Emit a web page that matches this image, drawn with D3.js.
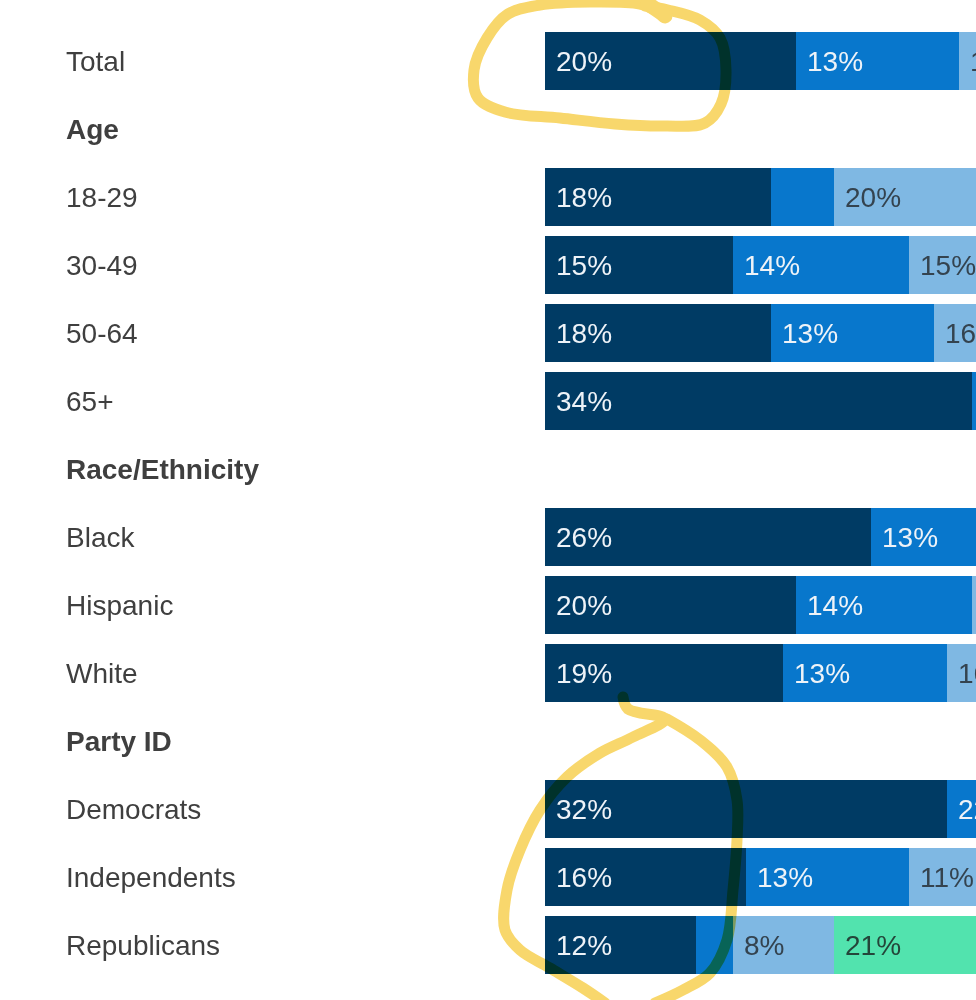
<!DOCTYPE html>
<html>
<head>
<meta charset="utf-8">
<script src="https://cdn.jsdelivr.net/npm/d3@7"></script>
<style>
  html, body { margin: 0; padding: 0; background: #ffffff; }
  svg { display: block; }
</style>
</head>
<body>
<svg id="chart" width="976" height="1000"></svg>
<script>
// ---- data ----
const rowLabels = ["Total", "Age", "18-29", "30-49", "50-64", "65+", "Race/Ethnicity",
                   "Black", "Hispanic", "White", "Party ID", "Democrats", "Independents", "Republicans"];
const isHeader  = [false, true, false, false, false, false, true, false, false, false, true, false, false, false];
// stacked segments (percent), left to right; header rows have no bar
const seg1 = [20, null, 18, 15, 18, 34, null, 26, 20, 19, null, 32, 16, 12];
const seg2 = [13, null,  5, 14, 13, 10, null, 13, 14, 13, null, 22, 13,  3];
const seg3 = [15, null, 20, 15, 16, 14, null, 14, 12, 16, null, 14, 11,  8];
const seg4 = [18, null, 20, 19, 18, 16, null, 17, 19, 18, null, 12, 20, 21];
const segColors = ["#003b64", "#0877cc", "#7fb8e3", "#52e3ae"];
const segText   = ["#eef3f8", "#eef3f8", "#34434f", "#24463a"];

const W = 976;
const svg = d3.select("#chart");

const y = d3.scaleBand().domain(d3.range(rowLabels.length))
  .range([27, 27 + 68 * rowLabels.length]).paddingInner(10 / 68).paddingOuter(5 / 68);
const x = d3.scaleLinear().domain([0, 100]).range([545, 545 + 1255]);

const series = [seg1, seg2, seg3, seg4];

// bars
const rows = svg.append("g");
rowLabels.forEach((lab, i) => {
  if (isHeader[i]) return;
  let acc = 0;
  series.forEach((s, k) => {
    const v = s[i];
    const x0 = Math.round(x(acc)), x1 = Math.round(x(acc + v));
    rows.append("rect")
      .attr("x", x0).attr("y", Math.round(y(i)))
      .attr("width", x1 - x0).attr("height", Math.round(y.bandwidth()))
      .attr("fill", segColors[k])
      .attr("shape-rendering", "crispEdges");
    if (v >= 7 && x0 + 11 < W) {
      rows.append("text")
        .attr("x", x0 + 11).attr("y", y(i) + y.bandwidth() / 2)
        .attr("dy", "0.36em")
        .attr("font-family", "Liberation Sans, Arial, sans-serif")
        .attr("font-size", 28)
        .attr("fill", segText[k])
        .text(v + "%");
    }
    acc += v;
  });
});

// row labels
svg.append("g").selectAll("text").data(rowLabels).join("text")
  .attr("x", 66)
  .attr("y", (d, i) => y(i) + y.bandwidth() / 2)
  .attr("dy", "0.36em")
  .attr("font-family", "Liberation Sans, Arial, sans-serif")
  .attr("font-size", 28)
  .attr("font-weight", (d, i) => isHeader[i] ? "bold" : "normal")
  .attr("fill", "#3f3f3f")
  .text(d => d);

// hand-drawn highlighter annotations
const hl = svg.append("g")
  .attr("fill", "none")
  .attr("stroke", "#f8d35c")
  .attr("stroke-width", 11)
  .attr("stroke-linecap", "round")
  .attr("stroke-linejoin", "round")
  .style("mix-blend-mode", "multiply")
  .attr("opacity", 0.9);

const line = d3.line().curve(d3.curveCatmullRom.alpha(0.5));
const loop1 = [[655, 10], [640, 4], [590, 2], [540, 5], [508, 14], [487, 38], [474, 70], [478, 98], [505, 112],
               [560, 118], [615, 124], [665, 126], [705, 123], [721, 104], [726, 70], [720, 38], [700, 20], [668, 10], [645, 6]];
hl.append("path").attr("d", line(loop1));
hl.append("path").attr("d", line([[648, 4], [660, 12], [665, 16]])).attr("stroke-width", 15);
const loop2 = [[623, 697], [628, 709], [665, 719], [633, 737], [600, 753], [567, 777], [540, 810], [520, 850],
               [507, 890], [505, 930], [520, 950], [550, 968], [583, 988], [605, 1003]];
hl.append("path").attr("d", line(loop2));
const loop3 = [[667, 719], [700, 740], [727, 767], [737, 800], [737, 840], [733, 890], [727, 940], [710, 973],
               [683, 990], [655, 1003]];
hl.append("path").attr("d", line(loop3));
</script>
</body>
</html>
